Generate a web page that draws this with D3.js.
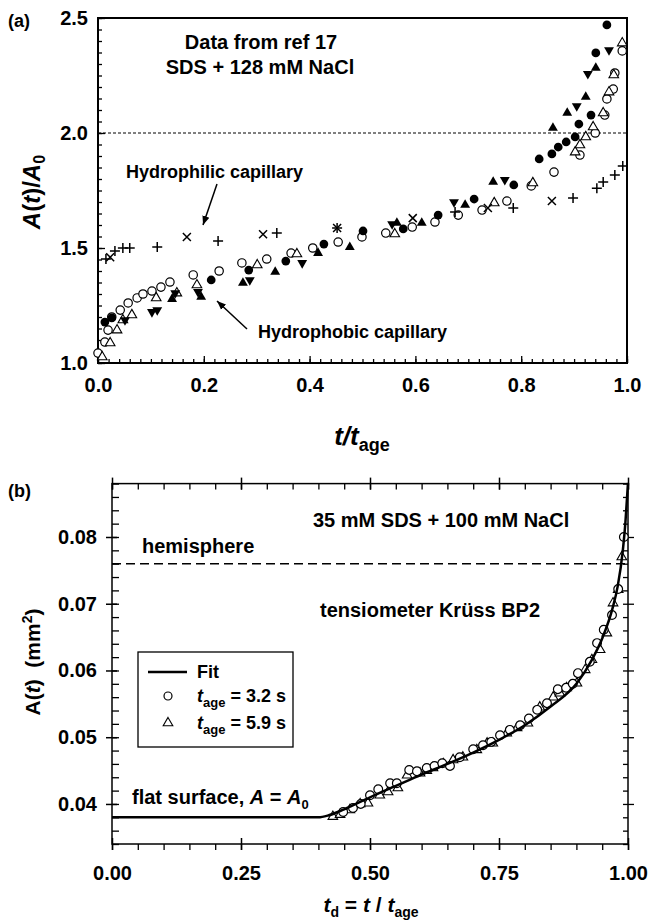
<!DOCTYPE html>
<html><head><meta charset="utf-8">
<script src="https://cdn.jsdelivr.net/npm/d3@7"></script>
<style>
body{margin:0;background:#fff}
svg{display:block}
text{font-family:"Liberation Sans",Arial,sans-serif;font-weight:bold;fill:#000}
</style>
</head><body>
<svg id="c" width="650" height="924"></svg>
<script>
// ---------------- Panel (a) data ----------------
const aXTicks = [0, 0.2, 0.4, 0.6, 0.8, 1.0];
const aYTicks = [1.0, 1.5, 2.0, 2.5];
const aHemi = 2.0;
const aOpenCircle = [[0.000,1.043],[0.013,1.091],[0.019,1.143],[0.026,1.200],[0.042,1.230],[0.057,1.261],[0.074,1.283],[0.085,1.300],[0.102,1.313],[0.119,1.330],[0.136,1.352],[0.180,1.383],[0.229,1.400],[0.272,1.435],[0.319,1.452],[0.365,1.478],[0.406,1.500],[0.454,1.526],[0.499,1.548],[0.544,1.565],[0.594,1.591],[0.637,1.613],[0.681,1.643],[0.726,1.665],[0.773,1.704],[0.819,1.770],[0.862,1.830],[0.911,1.904],[0.940,2.000],[0.958,2.078],[0.962,2.148],[0.974,2.191],[0.977,2.261],[0.991,2.357]];
const aOpenTriangle = [[0.008,1.026],[0.023,1.087],[0.036,1.143],[0.047,1.187],[0.064,1.209],[0.110,1.283],[0.149,1.304],[0.187,1.339],[0.301,1.426],[0.376,1.474],[0.561,1.561],[0.749,1.696],[0.822,1.783],[0.902,1.917],[0.911,1.948],[0.922,1.983],[0.936,2.026],[0.955,2.087],[0.966,2.178],[0.975,2.252],[0.991,2.391]];
const aFilledCircle = [[0.013,1.178],[0.026,1.196],[0.214,1.361],[0.285,1.404],[0.355,1.443],[0.427,1.517],[0.501,1.574],[0.577,1.583],[0.643,1.643],[0.711,1.713],[0.786,1.774],[0.834,1.887],[0.858,1.909],[0.870,1.939],[0.885,1.961],[0.902,1.983],[0.909,2.039],[0.932,2.078],[0.941,2.348],[0.962,2.470]];
const aFilledUp = [[0.140,1.278],[0.195,1.287],[0.274,1.348],[0.335,1.396],[0.416,1.478],[0.476,1.504],[0.565,1.609],[0.612,1.609],[0.694,1.687],[0.747,1.787],[0.860,2.022],[0.887,2.087],[0.922,2.157],[0.941,2.283]];
const aFilledDown = [[0.051,1.187],[0.102,1.222],[0.112,1.230],[0.146,1.304],[0.189,1.309],[0.287,1.361],[0.386,1.435],[0.556,1.604],[0.673,1.700],[0.769,1.796],[0.905,2.117],[0.926,2.257],[0.966,2.361]];
const aPlus = [[0.015,1.452],[0.032,1.487],[0.047,1.500],[0.060,1.500],[0.112,1.504],[0.227,1.530],[0.338,1.565],[0.452,1.587],[0.675,1.657],[0.785,1.674],[0.898,1.717],[0.943,1.760],[0.955,1.787],[0.977,1.817],[0.992,1.857]];
const aCross = [[0.023,1.460],[0.168,1.548],[0.312,1.560],[0.452,1.587],[0.595,1.630],[0.737,1.674],[0.858,1.704]];

// ---------------- Panel (b) data ----------------
const bXTicks = [0, 0.25, 0.5, 0.75, 1.0];
const bYTicks = [0.04, 0.05, 0.06, 0.07, 0.08];
const bHemi = 0.076;
const bFit = [[0,0.0380],[0.400,0.0380],[0.420,0.0383],[0.450,0.0392],[0.500,0.0410],[0.550,0.0427],[0.600,0.0444],[0.650,0.0460],[0.700,0.0477],[0.750,0.0496],[0.800,0.0518],[0.850,0.0546],[0.900,0.0580],[0.930,0.0616],[0.950,0.0648],[0.970,0.0693],[0.980,0.0726],[0.990,0.0780],[0.995,0.0822],[1.000,0.0881]];
const bCircles = [[0.448,0.0388],[0.467,0.0394],[0.482,0.0400],[0.500,0.0413],[0.516,0.0422],[0.539,0.0431],[0.552,0.0431],[0.576,0.0451],[0.591,0.0449],[0.610,0.0454],[0.625,0.0457],[0.640,0.0461],[0.655,0.0457],[0.674,0.0470],[0.700,0.0482],[0.719,0.0488],[0.735,0.0493],[0.752,0.0503],[0.771,0.0511],[0.791,0.0518],[0.808,0.0528],[0.824,0.0541],[0.843,0.0551],[0.864,0.0572],[0.880,0.0574],[0.893,0.0580],[0.903,0.0596],[0.926,0.0613],[0.940,0.0641],[0.953,0.0661],[0.969,0.0683],[0.981,0.0722],[0.992,0.0800]];
const bTriangles = [[0.428,0.0381],[0.442,0.0384],[0.461,0.0391],[0.481,0.0400],[0.496,0.0401],[0.519,0.0413],[0.535,0.0418],[0.554,0.0424],[0.572,0.0443],[0.597,0.0446],[0.610,0.0450],[0.622,0.0454],[0.642,0.0460],[0.661,0.0466],[0.680,0.0470],[0.707,0.0481],[0.727,0.0491],[0.738,0.0491],[0.765,0.0506],[0.785,0.0514],[0.806,0.0521],[0.829,0.0545],[0.855,0.0560],[0.868,0.0566],[0.881,0.0574],[0.901,0.0581],[0.917,0.0601],[0.930,0.0616],[0.946,0.0631],[0.959,0.0656],[0.971,0.0701],[0.981,0.0721],[0.988,0.0770]];

// ---------------- drawing ----------------
const svg = d3.select("#c");
const FONT = '"Liberation Sans", Arial, sans-serif';

svg.append("defs").append("marker")
  .attr("id","arr").attr("viewBox","0 0 10 10").attr("refX",10).attr("refY",5)
  .attr("markerWidth",9).attr("markerHeight",9).attr("markerUnits","userSpaceOnUse")
  .attr("orient","auto")
  .append("path").attr("d","M0,1 L10,5 L0,9 Z").attr("fill","#000");

function styleAxis(g, size) {
  g.select(".domain").remove();
  g.attr("font-family", FONT).attr("font-size", size || 20).attr("font-weight","bold");
  g.selectAll("line").attr("stroke","#000").attr("stroke-width",1.3);
  g.selectAll("text").attr("fill","#000");
}

const symCircle = d3.symbol().type(d3.symbolCircle);
const symTri = d3.symbol().type(d3.symbolTriangle);
function drawMarks(g, data, xs, ys, kind, sz) {
  const sel = g.append("g").selectAll("path").data(data).join("path")
    .attr("transform", d => `translate(${xs(d[0])},${ys(d[1])})` + (kind === "fdown" ? " rotate(180)" : ""));
  if (kind === "oc") sel.attr("d", symCircle.size(sz)).attr("fill","#fff").attr("stroke","#000").attr("stroke-width",1.2);
  if (kind === "fc") sel.attr("d", symCircle.size(sz)).attr("fill","#000");
  if (kind === "ot") sel.attr("d", symTri.size(sz)).attr("fill","#fff").attr("stroke","#000").attr("stroke-width",1.1);
  if (kind === "fup" || kind === "fdown") sel.attr("d", symTri.size(sz)).attr("fill","#000");
  if (kind === "plus") sel.attr("d","M-5,0H5M0,-5V5").attr("fill","none").attr("stroke","#000").attr("stroke-width",1.5);
  if (kind === "cross") sel.attr("d","M-4,-4L4,4M-4,4L4,-4").attr("fill","none").attr("stroke","#000").attr("stroke-width",1.5);
}

// ===== Panel (a) =====
const ax = d3.scaleLinear().domain([0, 1]).range([98, 627]);
const ay = d3.scaleLinear().domain([1, 2.5]).range([363, 18]);
const gA = svg.append("g");

gA.append("g").attr("transform",`translate(0,${ay(1)})`)
  .call(d3.axisBottom(ax).tickValues(d3.range(0, 1.0001, 0.02)).tickSize(-4).tickFormat(""))
  .call(g => styleAxis(g));
gA.append("g").attr("transform",`translate(0,${ay(1)})`)
  .call(d3.axisBottom(ax).tickValues(aXTicks).tickSize(-7).tickPadding(15).tickFormat(d3.format(".1f")))
  .call(g => styleAxis(g, 20));
gA.append("g").attr("transform",`translate(${ax(0)},0)`)
  .call(d3.axisLeft(ay).tickValues(d3.range(1, 2.5001, 0.05)).tickSize(-4).tickFormat(""))
  .call(g => styleAxis(g));
gA.append("g").attr("transform",`translate(${ax(0)},0)`)
  .call(d3.axisLeft(ay).tickValues(aYTicks).tickSize(-7).tickPadding(10).tickFormat(d3.format(".1f")))
  .call(g => styleAxis(g, 20));

gA.append("rect").attr("x",ax(0)).attr("y",ay(2.5)).attr("width",ax(1)-ax(0)).attr("height",ay(1)-ay(2.5))
  .attr("fill","none").attr("stroke","#000").attr("stroke-width",2);

gA.append("line").attr("x1",ax(0)).attr("x2",ax(1)).attr("y1",ay(aHemi)).attr("y2",ay(aHemi))
  .attr("stroke","#000").attr("stroke-width",1).attr("stroke-dasharray","3,2");

drawMarks(gA, aOpenCircle, ax, ay, "oc", 55);
drawMarks(gA, aOpenTriangle, ax, ay, "ot", 40);
drawMarks(gA, aFilledCircle, ax, ay, "fc", 60);
drawMarks(gA, aFilledUp, ax, ay, "fup", 42);
drawMarks(gA, aFilledDown, ax, ay, "fdown", 42);
drawMarks(gA, aPlus, ax, ay, "plus");
drawMarks(gA, aCross, ax, ay, "cross");

// annotations (a)
gA.append("text").attr("x",261).attr("y",49).attr("text-anchor","middle").attr("font-size",20).text("Data from ref 17");
gA.append("text").attr("x",260).attr("y",74).attr("text-anchor","middle").attr("font-size",20).text("SDS + 128 mM NaCl");
gA.append("text").attr("x",126).attr("y",178).attr("font-size",18).text("Hydrophilic capillary");
gA.append("text").attr("x",258).attr("y",338).attr("font-size",18).text("Hydrophobic capillary");
gA.append("line").attr("x1",217).attr("y1",184).attr("x2",203).attr("y2",225)
  .attr("stroke","#000").attr("stroke-width",1.5).attr("marker-end","url(#arr)");
gA.append("line").attr("x1",247).attr("y1",329).attr("x2",217).attr("y2",301)
  .attr("stroke","#000").attr("stroke-width",1.5).attr("marker-end","url(#arr)");

gA.append("text").attr("x",8).attr("y",27).attr("font-family",'"Liberation Serif", "Times New Roman", serif').attr("font-size",18).text("(a)");

// y title (a)
const ytA = gA.append("text").attr("transform","translate(40,192) rotate(-90)").attr("text-anchor","middle").attr("font-size",24);
ytA.append("tspan").attr("font-style","italic").text("A");
ytA.append("tspan").text("(");
ytA.append("tspan").attr("font-style","italic").text("t");
ytA.append("tspan").text(")/");
ytA.append("tspan").attr("font-style","italic").text("A");
ytA.append("tspan").attr("font-size",16).attr("dy",5).text("0");

// x title (a)
const xtA = gA.append("text").attr("x",362).attr("y",445).attr("text-anchor","middle").attr("font-size",26);
xtA.append("tspan").attr("font-style","italic").text("t/t");
xtA.append("tspan").attr("font-size",18).attr("dy",6).text("age");

// ===== Panel (b) =====
const bx = d3.scaleLinear().domain([0, 1]).range([112, 628]);
const by = d3.scaleLinear().domain([0.034, 0.088]).range([844, 483.6]);
const gB = svg.append("g");

gB.append("g").attr("transform",`translate(0,${by(0.034)})`)
  .call(d3.axisBottom(bx).tickValues(d3.range(0, 1.0001, 0.05)).tickSize(6).tickFormat(""))
  .call(g => styleAxis(g));
gB.append("g").attr("transform",`translate(0,${by(0.034)})`)
  .call(d3.axisBottom(bx).tickValues(bXTicks).tickSize(0).tickPadding(22).tickFormat(d3.format(".2f")))
  .call(g => styleAxis(g, 20))
  .call(g => g.selectAll(".tick line").attr("y1",-6).attr("y2",6).attr("stroke-width",1.5));
gB.append("g").attr("transform",`translate(0,${by(0.088)})`)
  .call(d3.axisTop(bx).tickValues(d3.range(0, 1.0001, 0.05)).tickSize(-6).tickFormat(""))
  .call(g => styleAxis(g));
gB.append("g").attr("transform",`translate(0,${by(0.088)})`)
  .call(d3.axisTop(bx).tickValues(bXTicks).tickSize(0).tickFormat(""))
  .call(g => styleAxis(g))
  .call(g => g.selectAll(".tick line").attr("y1",-6).attr("y2",6).attr("stroke-width",1.5));
gB.append("g").attr("transform",`translate(${bx(0)},0)`)
  .call(d3.axisLeft(by).tickValues(d3.range(0.034, 0.0881, 0.002)).tickSize(-7).tickFormat(""))
  .call(g => styleAxis(g));
gB.append("g").attr("transform",`translate(${bx(0)},0)`)
  .call(d3.axisLeft(by).tickValues(bYTicks).tickSize(0).tickPadding(15).tickFormat(d3.format(".2f")))
  .call(g => styleAxis(g, 20))
  .call(g => g.selectAll(".tick line").attr("x1",-6).attr("x2",5).attr("stroke-width",1.5));
gB.append("g").attr("transform",`translate(${bx(1)},0)`)
  .call(d3.axisRight(by).tickValues(d3.range(0.034, 0.0881, 0.002)).tickSize(-5).tickFormat(""))
  .call(g => styleAxis(g));
gB.append("g").attr("transform",`translate(${bx(1)},0)`)
  .call(d3.axisRight(by).tickValues(bYTicks).tickSize(6).tickFormat(""))
  .call(g => styleAxis(g));

gB.append("rect").attr("x",bx(0)).attr("y",by(0.088)).attr("width",bx(1)-bx(0)).attr("height",by(0.034)-by(0.088))
  .attr("fill","none").attr("stroke","#000").attr("stroke-width",1.5);

gB.append("line").attr("x1",bx(0)).attr("x2",bx(1)).attr("y1",by(bHemi)).attr("y2",by(bHemi))
  .attr("stroke","#000").attr("stroke-width",1.5).attr("stroke-dasharray","9,5");

drawMarks(gB, bTriangles, bx, by, "ot", 40);
drawMarks(gB, bCircles, bx, by, "oc", 60);

gB.append("path").datum(bFit)
  .attr("d", d3.line().x(d => bx(d[0])).y(d => by(d[1])).curve(d3.curveMonotoneX))
  .attr("fill","none").attr("stroke","#000").attr("stroke-width",2.5);

// annotations (b)
gB.append("text").attr("x",313).attr("y",527).attr("font-size",20).text("35 mM SDS + 100 mM NaCl");
gB.append("text").attr("x",142).attr("y",553).attr("font-size",20).text("hemisphere");
gB.append("text").attr("x",320).attr("y",617).attr("font-size",20).text("tensiometer Krüss BP2");
const fs = gB.append("text").attr("x",132).attr("y",804).attr("font-size",20);
fs.append("tspan").text("flat surface, ");
fs.append("tspan").attr("font-style","italic").text("A");
fs.append("tspan").text(" = ");
fs.append("tspan").attr("font-style","italic").text("A");
fs.append("tspan").attr("font-size",13).attr("dy",5).text("0");

gB.append("text").attr("x",8).attr("y",497).attr("font-family",'"Liberation Serif", "Times New Roman", serif').attr("font-size",18).text("(b)");

// legend
const lg = gB.append("g");
lg.append("rect").attr("x",138).attr("y",652).attr("width",155).attr("height",95).attr("fill","#fff").attr("stroke","#000").attr("stroke-width",1.3);
lg.append("line").attr("x1",148).attr("x2",187).attr("y1",672).attr("y2",672).attr("stroke","#000").attr("stroke-width",2.5);
lg.append("text").attr("x",197).attr("y",678).attr("font-size",18).text("Fit");
lg.append("path").attr("transform","translate(168,696)").attr("d",symCircle.size(50)).attr("fill","#fff").attr("stroke","#000").attr("stroke-width",1.2);
lg.append("path").attr("transform","translate(168,723)").attr("d",symTri.size(40)).attr("fill","#fff").attr("stroke","#000").attr("stroke-width",1.1);
[["3.2",702],["5.9",729]].forEach(([v,y]) => {
  const t = lg.append("text").attr("x",197).attr("y",y).attr("font-size",18);
  t.append("tspan").attr("font-style","italic").text("t");
  t.append("tspan").attr("font-size",13).attr("dy",5).text("age");
  t.append("tspan").attr("dy",-5).text(" = " + v + " s");
});

// y title (b)
const ytB = gB.append("text").attr("transform","translate(40,662) rotate(-90)").attr("text-anchor","middle").attr("font-size",21);
ytB.append("tspan").text("A(");
ytB.append("tspan").attr("font-style","italic").text("t");
ytB.append("tspan").text(")\u00a0\u00a0(mm");
ytB.append("tspan").attr("font-size",14).attr("dy",-8).text("2");
ytB.append("tspan").attr("dy",8).text(")");

// x title (b)
const xtB = gB.append("text").attr("x",371).attr("y",912).attr("text-anchor","middle").attr("font-size",21);
xtB.append("tspan").attr("font-style","italic").text("t");
xtB.append("tspan").attr("font-size",14).attr("dy",5).text("d");
xtB.append("tspan").attr("dy",-5).text(" = ");
xtB.append("tspan").attr("font-style","italic").text("t");
xtB.append("tspan").text(" / ");
xtB.append("tspan").attr("font-style","italic").text("t");
xtB.append("tspan").attr("font-size",14).attr("dy",5).text("age");
</script>
</body></html>
